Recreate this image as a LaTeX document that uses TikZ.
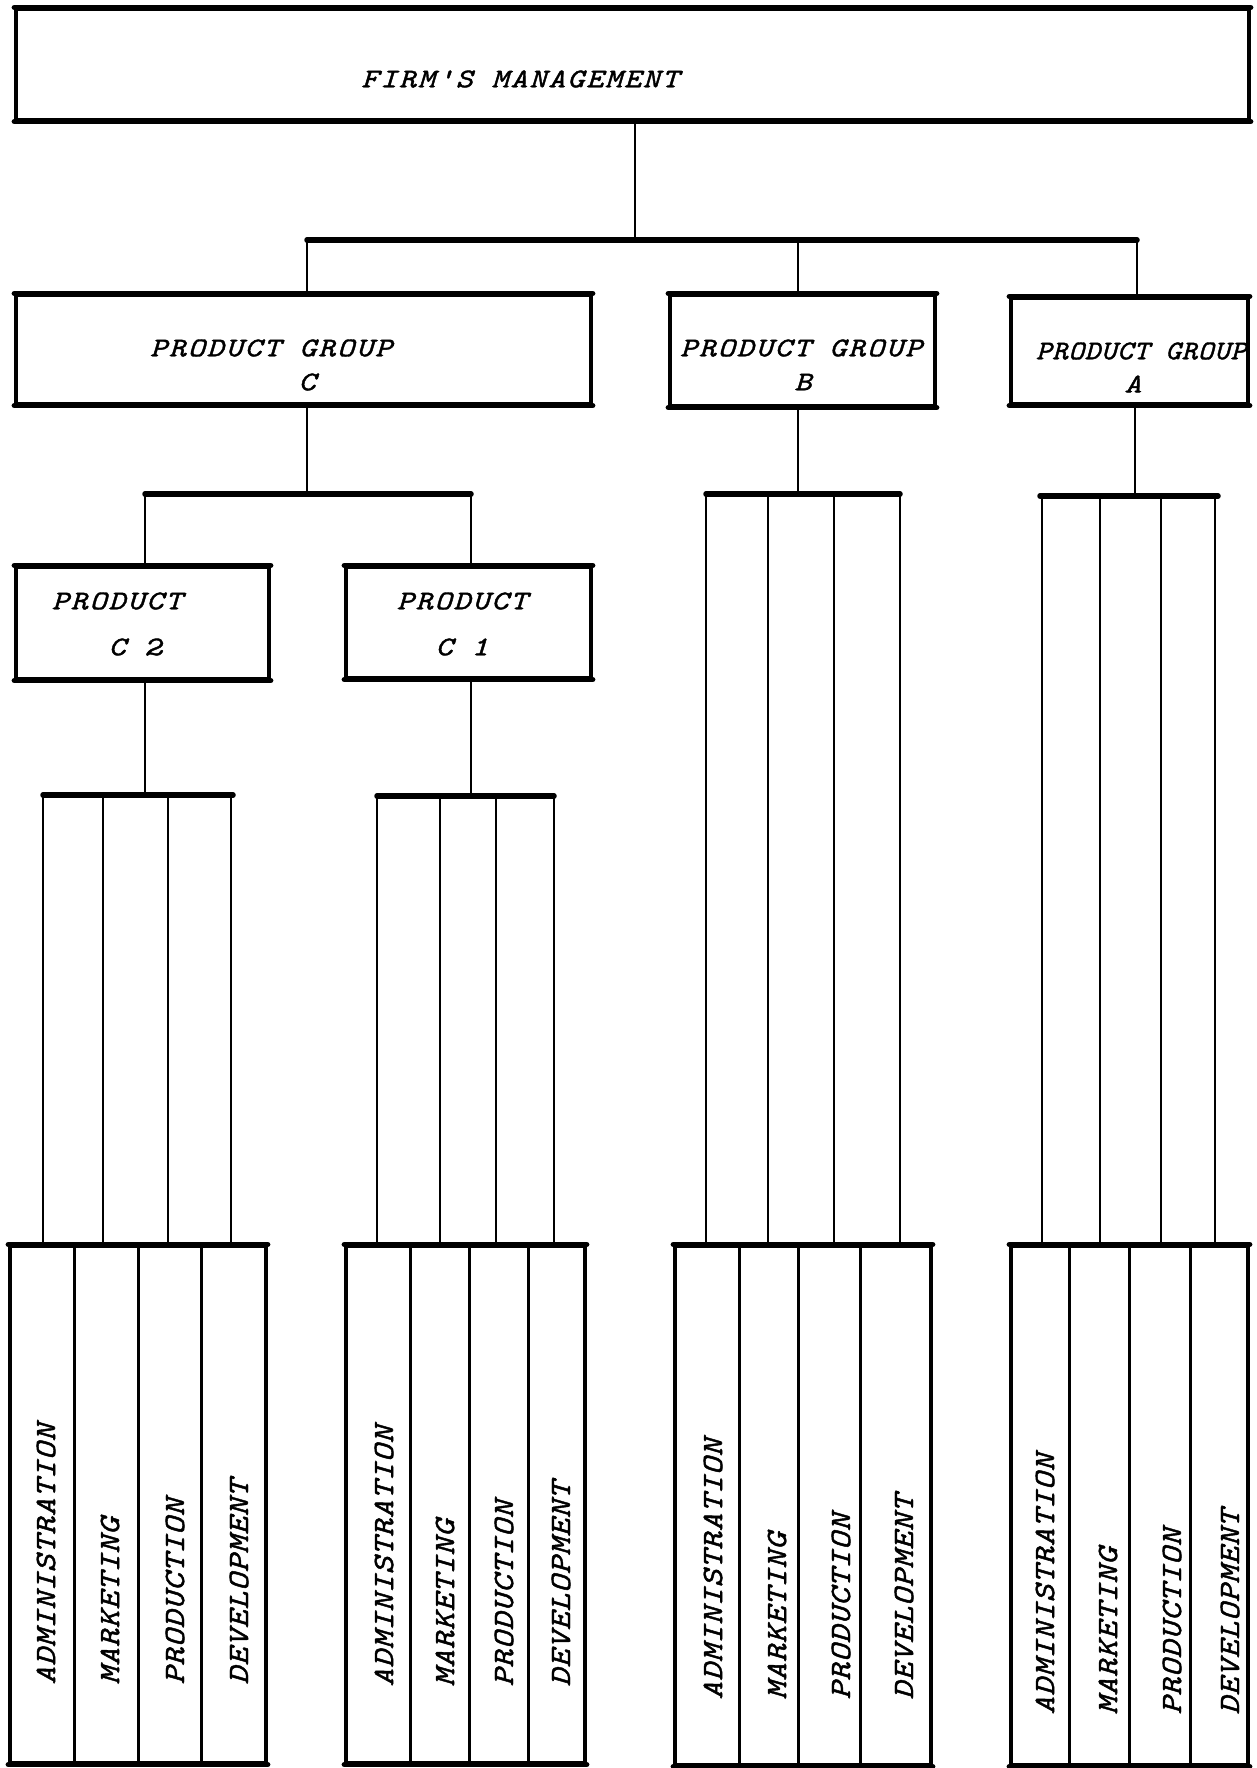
\documentclass[tikz,border=0pt]{standalone}
\usepackage{fontspec}
\usetikzlibrary{fit}
% typewriter italic, widened and spaced out like a typed chart
\newfontfamily\typeH[FakeStretch=1.2,LetterSpace=7,FakeBold=1.5]{lmmono10-italic.otf}
\newfontfamily\typeT[FakeStretch=1.1,LetterSpace=2.5,FakeBold=1.5]{lmmono10-italic.otf}
\newfontfamily\typeV[FakeStretch=1.15,LetterSpace=3,FakeBold=1.5]{lmmono10-italic.otf}
\begin{document}
\begin{tikzpicture}[x=0.4pt,y=-0.4pt,
  box/.style={draw, line width=1.3pt, inner sep=0pt},
  edge/.style={line width=2.2pt, line cap=round},
  wire/.style={line width=1pt},
  bus/.style={line width=2.2pt, line cap=round},
  divider/.style={line width=1.2pt},
  hlabel/.style={inner sep=0pt, font=\typeH\fontsize{10.8}{13}\selectfont},
  tight/.style={inner sep=0pt, font=\typeT\fontsize{10.8}{13}\selectfont},
  vlabel/.style={inner sep=0pt, rotate=90, anchor=west, font=\typeV\fontsize{11.8}{14}\selectfont},
]
\useasboundingbox (0,0) rectangle (1256,1768);

% ---- boxes ----
\node[box, fit={(16,9)(1249,120)}] (mgmt) {};
\node[box, fit={(16,295)(591,404)}] (gC) {};
\node[box, fit={(670,295)(935,406)}] (gB) {};
\node[box, fit={(1011,298)(1248,404)}] (gA) {};
\node[box, fit={(16,567)(269,679)}] (pC2) {};
\node[box, fit={(346,567)(591,678)}] (pC1) {};
\node[box, fit={(10,1246)(266,1763)}] (dC2) {};
\node[box, fit={(346,1246)(585,1763)}] (dC1) {};
\node[box, fit={(675,1246)(931,1765)}] (dB) {};
\node[box, fit={(1011,1246)(1248,1765)}] (dA) {};

% heavier top and bottom rules of the boxes
\foreach \n in {mgmt,gC,gB,gA,pC2,pC1,dC2,dC1,dB,dA}{
  \draw[edge] (\n.north west) -- (\n.north east);
  \draw[edge] (\n.south west) -- (\n.south east);
}

% ---- box texts ----
\node[hlabel] (tM) at (520,79) {FIRM'S MANAGEMENT};
\node[hlabel] (tC) at (271,348) {PRODUCT GROUP};
\node[hlabel] (tCc) at (307,382) {C};
\node[hlabel] (tB) at (801,348) {PRODUCT GROUP};
\node[hlabel] (tBb) at (803,382) {B};
\node[tight] (tA) at (1141,351) {PRODUCT GROUP};
\node[hlabel] (tAa) at (1133,384) {A};
\node[hlabel] (tC2) at (117,601) {PRODUCT};
\node[hlabel] (tC2n) at (135,647) {C 2};
\node[hlabel] (tC1) at (462,601) {PRODUCT};
\node[hlabel] (tC1n) at (462,647) {C 1};

% ---- top level connectors ----
\coordinate (j0) at (635,240);
\coordinate (jC) at (307,240);
\coordinate (jB) at (798,240);
\coordinate (jA) at (1137,240);
\draw[wire] (mgmt.south -| j0) -- (j0);
\draw[bus] (jC) -- (jA);
\draw[wire] (jC) -- (jC |- gC.north);
\draw[wire] (jB) -- (jB |- gB.north);
\draw[wire] (jA) -- (jA |- gA.north);

% ---- product group C to its products ----
\coordinate (kC) at (307,494);
\coordinate (kC2) at (145,494);
\coordinate (kC1) at (471,494);
\draw[wire] (gC.south -| kC) -- (kC);
\draw[bus] (kC2) -- (kC1);
\draw[wire] (kC2) -- (kC2 |- pC2.north);
\draw[wire] (kC1) -- (kC1 |- pC1.north);

% ---- function buses ----
\coordinate (mC2) at (145,795);
\coordinate (mC2l) at (43,795);
\coordinate (mC2r) at (233,795);
\draw[wire] (pC2.south -| mC2) -- (mC2);
\draw[bus] (mC2l) -- (mC2r);
\foreach \x in {43,103,168,231}
  \draw[wire] (\x,795) -- (\x,795 |- dC2.north);

\coordinate (mC1) at (471,796);
\coordinate (mC1l) at (377,796);
\coordinate (mC1r) at (554,796);
\draw[wire] (pC1.south -| mC1) -- (mC1);
\draw[bus] (mC1l) -- (mC1r);
\foreach \x in {377,440,496,554}
  \draw[wire] (\x,796) -- (\x,796 |- dC1.north);

\coordinate (mB) at (798,494);
\coordinate (mBl) at (706,494);
\coordinate (mBr) at (900,494);
\draw[wire] (gB.south -| mB) -- (mB);
\draw[bus] (mBl) -- (mBr);
\foreach \x in {706,768,834,900}
  \draw[wire] (\x,494) -- (\x,494 |- dB.north);

\coordinate (mA) at (1135,496);
\coordinate (mAl) at (1040,496);
\coordinate (mAr) at (1218,496);
\draw[wire] (gA.south -| mA) -- (mA);
\draw[bus] (mAl) -- (mAr);
\foreach \x in {1042,1100,1161,1215}
  \draw[wire] (\x,496) -- (\x,496 |- dA.north);

% ---- column dividers of the function blocks ----
\foreach \x in {74,138,201}
  \draw[divider] (\x,0 |- dC2.north) -- (\x,0 |- dC2.south);
\foreach \x in {410,469,528}
  \draw[divider] (\x,0 |- dC1.north) -- (\x,0 |- dC1.south);
\foreach \x in {739,798,860}
  \draw[divider] (\x,0 |- dB.north) -- (\x,0 |- dB.south);
\foreach \x in {1069,1129,1190}
  \draw[divider] (\x,0 |- dA.north) -- (\x,0 |- dA.south);

% ---- function names ----
\foreach \x/\t [count=\i] in {46/ADMINISTRATION,110/MARKETING,175/PRODUCTION,239/DEVELOPMENT}
  \node[vlabel] (fC2\i) at (\x,1685) {\t};
\foreach \x/\t [count=\i] in {384/ADMINISTRATION,445/MARKETING,504/PRODUCTION,561/DEVELOPMENT}
  \node[vlabel] (fC1\i) at (\x,1687) {\t};
\foreach \x/\t [count=\i] in {713/ADMINISTRATION,777/MARKETING,841/PRODUCTION,904/DEVELOPMENT}
  \node[vlabel] (fB\i) at (\x,1700) {\t};
\foreach \x/\t [count=\i] in {1045/ADMINISTRATION,1108/MARKETING,1172/PRODUCTION,1230/DEVELOPMENT}
  \node[vlabel] (fA\i) at (\x,1715) {\t};
\end{tikzpicture}
\end{document}
